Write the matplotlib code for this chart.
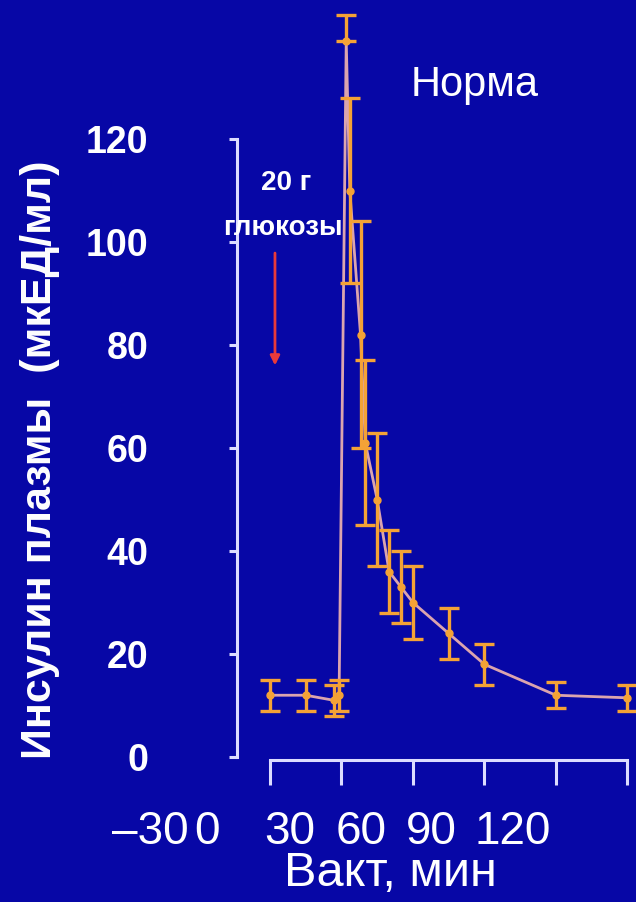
import matplotlib
matplotlib.use("Agg")
import matplotlib.pyplot as plt
import matplotlib.transforms as mtransforms

# data (time in minutes, insulin in mcU/ml)
time_min = [-30, -15, -3, -1, 2, 3.5, 8, 10, 15, 20, 25, 30, 45, 60, 90, 120]
insulin = [12, 12, 11, 12, 139, 110, 82, 61, 50, 36, 33, 30, 24, 18, 12, 11.5]
err_low = [3, 3, 3, 3, 0, 18, 22, 16, 13, 8, 7, 7, 5, 4, 2.5, 2.5]
err_high = [3, 3, 3, 3, 5, 18, 22, 16, 13, 8, 7, 7, 5, 4, 2.5, 2.5]

x_ticks = [-30, 0, 30, 60, 90, 120]
x_tick_labels = ["\u201330", "0", "30", "60", "90", "120"]
y_ticks = [0, 20, 40, 60, 80, 100, 120]

bg = "#0707a6"
axis_col = "#dcdcff"
orange = "#f4a236"
line_col = "#dba4ae"

fig = plt.figure(figsize=(6.36, 9.02), dpi=100, facecolor=bg)
ax = fig.add_axes([0.3726, 0.1574, 0.6274, 0.8426])
ax.set_facecolor(bg)

ax.plot(time_min, insulin, color=line_col, lw=2, zorder=2)
ax.errorbar(time_min, insulin, yerr=[err_low, err_high], fmt="o", ms=5,
            color=orange, ecolor=orange, elinewidth=2.4, capsize=7,
            capthick=2.4, zorder=3)

ax.set_xlim(-43.85, 123.6)
ax.set_ylim(-0.58, 147)

# spines
for s in ["top", "right"]:
    ax.spines[s].set_visible(False)
for s in ["left", "bottom"]:
    ax.spines[s].set_color(axis_col)
    ax.spines[s].set_linewidth(2.2)
ax.spines["left"].set_bounds(0, 120)
ax.spines["bottom"].set_bounds(-30, 120)

ax.set_yticks(y_ticks)
ax.set_yticklabels([str(v) for v in y_ticks])
ax.tick_params(axis="y", colors=axis_col, length=6, width=2.2, pad=58,
               labelcolor="white")
for lab in ax.get_yticklabels():
    lab.set_fontfamily("Liberation Sans")
    lab.set_fontweight("bold")
    lab.set_fontsize(27)

ax.set_xticks(x_ticks)
ax.set_xticklabels(x_tick_labels)
ax.tick_params(axis="x", colors=axis_col, length=18, width=2.2, pad=18,
               labelcolor="white")
# labels in the source sit shifted to the left of their ticks
shift_px = [-120, -134, -123, -123, -125, -115]
for lab, dx in zip(ax.get_xticklabels(), shift_px):
    lab.set_fontfamily("Liberation Sans")
    lab.set_fontsize(33)
    lab.set_transform(lab.get_transform() +
                      mtransforms.ScaledTranslation(dx / 100, 0, fig.dpi_scale_trans))

fig.text(0.063, 1 - 460 / 902, "Инсулин плазмы  (мкЕД/мл)", rotation=90,
         ha="center", va="center", color="white", fontsize=31,
         fontweight="bold", family="Liberation Sans")
fig.text(390 / 636, 1 - 874 / 902, "Вакт, мин", ha="center", va="center",
         color="white", fontsize=35, family="Liberation Sans")
fig.text(475 / 636, 1 - 85 / 902, "Норма", ha="center", va="center",
         color="white", fontsize=30, family="Liberation Sans")

fig.text(286 / 636, 1 - 183 / 902, "20 г", ha="center", va="center",
         color="white", fontsize=20, fontweight="bold", family="Liberation Sans")
fig.text(283 / 636, 1 - 228 / 902, "глюкозы", ha="center", va="center",
         color="white", fontsize=20, fontweight="bold", family="Liberation Sans")

ax.annotate("", xy=(-27.9, 75.5), xytext=(-27.9, 98.4),
            arrowprops=dict(arrowstyle="-|>", color="#e83a3a", lw=2,
                            mutation_scale=14))

fig.savefig("out.png", dpi=100, facecolor=bg)
